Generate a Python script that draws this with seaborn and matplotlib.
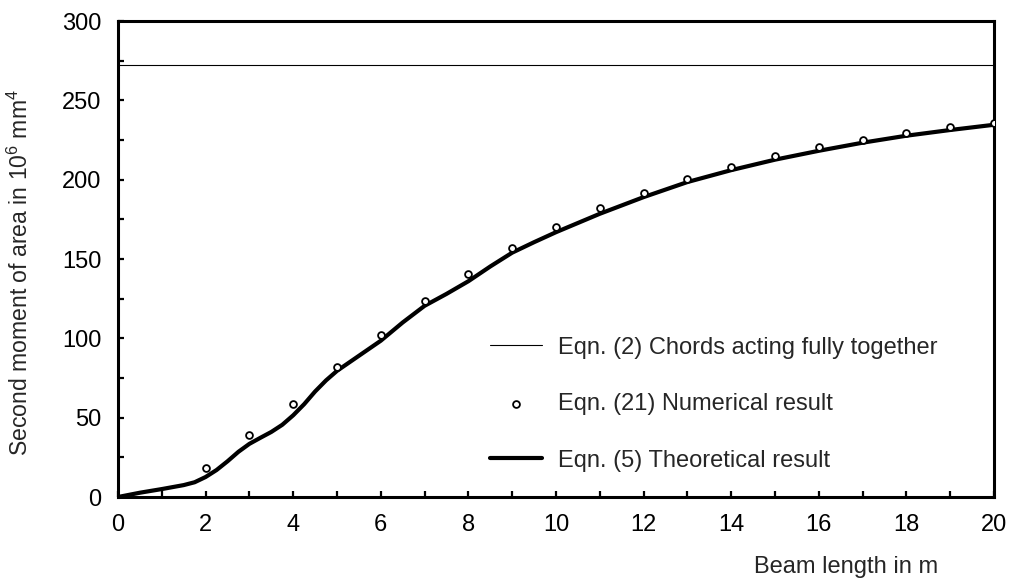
import numpy as np
import pandas as pd
import seaborn as sns
import matplotlib.pyplot as plt
from matplotlib.ticker import MultipleLocator

# chords acting fully together, Eqn. (2)
full_x = [0, 20]
full_y = [272, 272]

# numerical result, Eqn. (21)
num_x = [2, 3, 4, 5, 6, 7, 8, 9, 10, 11, 12, 13, 14, 15, 16, 17, 18, 19, 20]
num_y = [18.3, 38.8, 58.3, 81.8, 102.3, 123.3, 140.5, 156.7, 170.0, 182.2, 191.8,
         200.6, 208.2, 214.7, 220.3, 224.9, 229.3, 233.3, 236.0]

# theoretical result, Eqn. (5)
theo_x = [0, 0.5, 1, 1.5, 1.75, 2, 2.25, 2.5, 2.75, 3, 3.25, 3.5, 3.75, 4, 4.25, 4.5,
          4.75, 5, 5.5, 6, 6.5, 7, 7.5, 8, 8.5, 9, 9.5,
          10, 11, 12, 13, 14, 15, 16, 17, 18, 19, 20]
theo_y = [0, 2.7, 5.0, 7.5, 9.3, 12.6, 17.0, 22.5, 28.5, 33.5, 37.3, 41.0, 45.5, 51.5,
          58.5, 66.5, 73.5, 79.5, 89.0, 98.5, 110.0, 120.5, 128.0, 136.0, 145.3, 154.0,
          160.6, 166.9, 178.5, 189.0, 198.5, 206.0, 212.6, 218.2, 223.3, 227.7, 231.3,
          234.6]

df_full = pd.DataFrame({'x': full_x, 'y': full_y})
df_num = pd.DataFrame({'x': num_x, 'y': num_y})
df_theo = pd.DataFrame({'x': theo_x, 'y': theo_y})

sns.set_style('ticks')
plt.rcParams['font.family'] = ['Liberation Sans', 'DejaVu Sans']
plt.rcParams['mathtext.fontset'] = 'custom'
plt.rcParams['mathtext.rm'] = 'Liberation Sans'
plt.rcParams['mathtext.it'] = 'Liberation Sans'

fs = 17

fig = plt.figure(figsize=(10.09, 5.81), dpi=100)
ax = fig.add_axes([118 / 1009, 1 - 497 / 581, 876 / 1009, 476 / 581])

sns.lineplot(data=df_full, x='x', y='y', color='black', linewidth=0.8, ax=ax,
             label='Eqn. (2) Chords acting fully together')
sns.scatterplot(data=df_num, x='x', y='y', marker='o', s=24, facecolor='white',
                edgecolor='black', linewidth=1.3, ax=ax, zorder=3,
                label='Eqn. (21) Numerical result')
sns.lineplot(data=df_theo, x='x', y='y', color='black', linewidth=3, ax=ax,
             solid_joinstyle='round', solid_capstyle='round',
             label='Eqn. (5) Theoretical result')

ax.set_xlim(0, 20)
ax.set_ylim(0, 300)
ax.xaxis.set_major_locator(MultipleLocator(2))
ax.xaxis.set_minor_locator(MultipleLocator(1))
ax.yaxis.set_major_locator(MultipleLocator(50))
ax.yaxis.set_minor_locator(MultipleLocator(25))
ax.tick_params(which='both', direction='in', length=4.5, width=1.6, labelsize=fs,
               pad=12, top=False, right=False, color='black', labelcolor='black')

for s in ax.spines.values():
    s.set_linewidth(2.2)
    s.set_color('black')

ax.set_xlabel('Beam length in m', fontsize=fs, ha='right', va='center')
ax.xaxis.set_label_coords((938 - 118) / 876, -0.147)
ax.set_ylabel('Second moment of area in 10$^{6}$ mm$^{4}$', fontsize=16.6, va='center')
ax.yaxis.set_label_coords((20 - 118) / 876, (497 - 272) / 476)

ax.legend(loc='upper left', bbox_to_anchor=(0.425, 0.337), frameon=False, fontsize=fs,
          borderpad=0, borderaxespad=0, handlelength=2.2, handletextpad=0.68,
          labelspacing=1.46)

plt.savefig('out.png', dpi=100)
